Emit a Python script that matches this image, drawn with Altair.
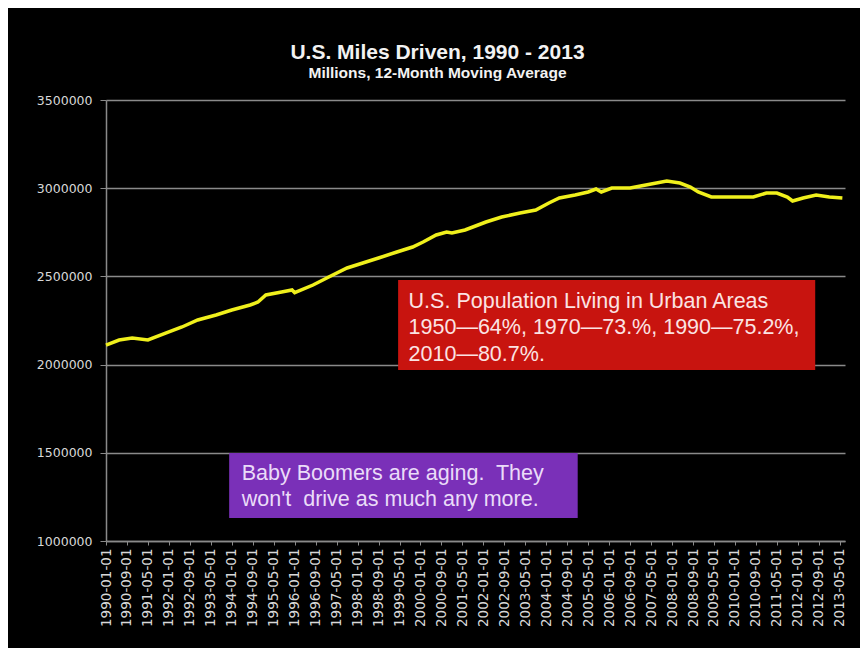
import altair as alt
import pandas as pd

# ---- data ----
months = [
    "1990-01-01", "1990-06-01", "1990-11-01", "1991-05-01", "1991-12-01",
    "1992-06-01", "1992-12-01", "1993-07-01", "1994-01-01", "1994-08-01",
    "1994-11-01", "1995-02-01", "1995-08-01", "1995-12-01", "1996-01-01",
    "1996-08-01", "1997-02-01", "1997-09-01", "1998-03-01", "1998-09-01",
    "1999-04-01", "1999-10-01", "2000-02-01", "2000-07-01", "2000-11-01",
    "2001-01-01", "2001-06-01", "2001-11-01", "2002-02-01", "2002-08-01",
    "2003-03-01", "2003-09-01", "2004-02-01", "2004-06-01", "2004-12-01",
    "2005-05-01", "2005-08-01", "2005-10-01", "2006-02-01", "2006-09-01",
    "2006-11-01", "2007-05-01", "2007-11-01", "2008-04-01", "2008-08-01",
    "2008-11-01", "2009-04-01", "2009-10-01", "2010-04-01", "2010-08-01",
    "2011-01-01", "2011-05-01", "2011-09-01", "2011-11-01", "2012-03-01",
    "2012-08-01", "2013-01-01", "2013-06-01",
]
miles = [
    2111000, 2139500, 2150800, 2139500, 2179200,
    2213200, 2252800, 2281200, 2309500, 2337900,
    2354900, 2394600, 2411600, 2422900, 2408000,
    2451300, 2496600, 2547600, 2576000, 2604300,
    2638300, 2666700, 2695000, 2734700, 2751700,
    2746100, 2763100, 2791400, 2808400, 2836800,
    2859400, 2876400, 2916100, 2944500, 2961500,
    2978500, 2995500, 2978500, 3001100, 3001100,
    3006800, 3023800, 3040800, 3029500, 3006800,
    2978500, 2950100, 2950100, 2950100, 2950100,
    2972800, 2972800, 2950100, 2927400, 2944500,
    2961500, 2950100, 2944500,
]

tick_dates = [
    "1990-01-01", "1990-09-01", "1991-05-01", "1992-01-01", "1992-09-01",
    "1993-05-01", "1994-01-01", "1994-09-01", "1995-05-01", "1996-01-01",
    "1996-09-01", "1997-05-01", "1998-01-01", "1998-09-01", "1999-05-01",
    "2000-01-01", "2000-09-01", "2001-05-01", "2002-01-01", "2002-09-01",
    "2003-05-01", "2004-01-01", "2004-09-01", "2005-05-01", "2006-01-01",
    "2006-09-01", "2007-05-01", "2008-01-01", "2008-09-01", "2009-05-01",
    "2010-01-01", "2010-09-01", "2011-05-01", "2012-01-01", "2012-09-01",
    "2013-05-01",
]
y_ticks = [1000000, 1500000, 2000000, 2500000, 3000000, 3500000]
x_range = ["1990-01-01", "2013-07-01"]

# annotation boxes (data coordinates)
box_start = ["1999-04-15", "1993-12-01"]
box_end = ["2012-07-20", "2005-01-01"]
box_top = [2479600, 1498900]
box_bottom = [1969400, 1130400]
box_color = ["#c8140f", "#7a30b8"]
note_x = ["1999-08-15", "1994-04-25"]
note_y = [2354900, 1380000]
note_text = [
    "U.S. Population Living in Urban Areas\n1950\u201464%, 1970\u201473.%, 1990\u201475.2%,\n2010\u201480.7%.",
    "Baby Boomers are aging.\u00a0 They\nwon't\u00a0 drive as much any more.",
]
note_color = ["#fbe3e3", "#eadcf8"]


def month_pos(s):
    """Position of a date on the monthly category axis (months since 1990-01)."""
    y, m, d = (int(p) for p in s.split("-"))
    return (y - 1990) * 12 + (m - 1) + (d - 1) / 30.0


line_df = pd.DataFrame({"month": months, "miles": miles})
line_df["pos"] = line_df["month"].map(month_pos)
box_df = pd.DataFrame({"x": [month_pos(s) for s in box_start],
                       "x2": [month_pos(s) for s in box_end],
                       "y": box_top, "y2": box_bottom, "c": box_color})
note_df = pd.DataFrame({"x": [month_pos(s) for s in note_x], "y": note_y,
                        "t": note_text, "c": note_color})

tick_pos = [int(month_pos(s)) for s in tick_dates]
label_expr = "{" + ", ".join(f"'{p}': '{s}'" for p, s in zip(tick_pos, tick_dates)) + "}[toString(datum.value)]"

xscale = alt.Scale(domain=[month_pos(x_range[0]), month_pos(x_range[1])], nice=False, zero=False)
yscale = alt.Scale(domain=[1000000, 3500000])

grid_col = "#8a8a8a"

x_axis = alt.Axis(values=tick_pos, labelExpr=label_expr, labelAngle=270,
                  labelOverlap=False, labelColor="#d8d8d8",
                  labelFont="DejaVu Sans", labelFontSize=13.5,
                  labelPadding=3, tickSize=4, tickColor=grid_col,
                  domainColor=grid_col, domainWidth=1.5, grid=False,
                  labelBound=False, labelFlush=False, labelSeparation=0)
y_axis = alt.Axis(values=y_ticks, format="d", labelColor="#d8d8d8",
                  labelFont="DejaVu Sans", labelFontSize=12.5,
                  labelPadding=8, tickSize=6, tickColor=grid_col,
                  domainColor=grid_col, domainWidth=1.5,
                  grid=True, gridColor=grid_col, gridWidth=1.5)

line = alt.Chart(line_df).mark_line(color="#f0f01c", strokeWidth=3.5).encode(
    x=alt.X("pos:Q", scale=xscale, title=None, axis=x_axis),
    y=alt.Y("miles:Q", scale=yscale, title=None, axis=y_axis),
)

boxes = alt.Chart(box_df).mark_rect().encode(
    x=alt.X("x:Q", scale=xscale, title=None, axis=x_axis), x2="x2:Q",
    y=alt.Y("y:Q", scale=yscale, title=None, axis=y_axis), y2="y2:Q",
    color=alt.Color("c:N", scale=None),
)

notes = alt.Chart(note_df).mark_text(
    align="left", baseline="middle", lineBreak="\n", font="Liberation Sans",
    fontSize=21.5, lineHeight=26.5,
).encode(
    x=alt.X("x:Q", scale=xscale, title=None, axis=x_axis),
    y=alt.Y("y:Q", scale=yscale, title=None, axis=y_axis),
    text="t:N", color=alt.Color("c:N", scale=None),
)

chart = alt.layer(line, boxes, notes).properties(
    width=739, height=441,
    padding={"left": 98, "top": 92, "right": 15, "bottom": 107},
    autosize=alt.AutoSizeParams(type="none"),
    background="black",
    title=alt.TitleParams(
        text="U.S. Miles Driven, 1990 - 2013",
        subtitle="Millions, 12-Month Moving Average",
        color="#f2f2f2", subtitleColor="#f2f2f2",
        font="Liberation Sans", subtitleFont="Liberation Sans",
        fontSize=21, subtitleFontSize=15.5,
        fontWeight="bold", subtitleFontWeight="bold",
        anchor="middle", offset=13, subtitlePadding=3, dx=-38,
    ),
).configure_view(stroke=None).configure_axis(labelOverlap=False)

chart.save("out.html", embed_options={"renderer": "svg", "actions": False})
